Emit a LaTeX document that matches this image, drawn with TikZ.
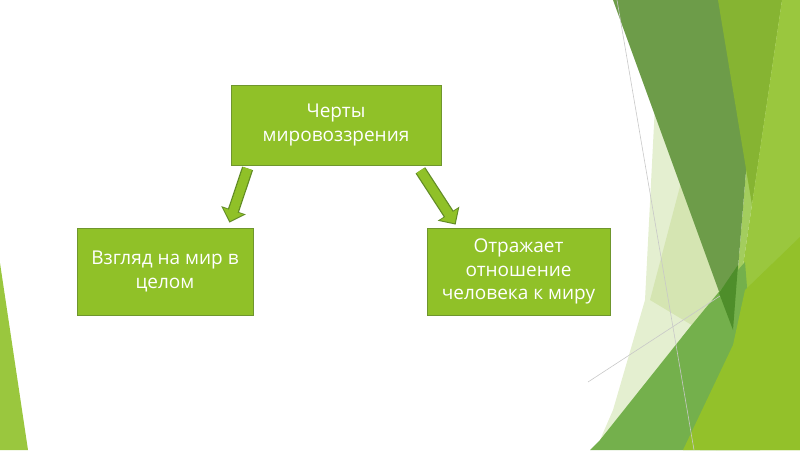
\documentclass[tikz,border=0pt]{standalone}
\usepackage{fontspec}
\setmainfont{Open Sans}
\usetikzlibrary{arrows.meta}

\definecolor{boxgreen}{RGB}{144,193,40}
\definecolor{boxedge}{RGB}{111,150,45}
\definecolor{arrowedge}{RGB}{98,140,38}
\definecolor{facetpale}{RGB}{228,239,208}
\definecolor{facetpaletwo}{RGB}{213,229,178}
\definecolor{facetdark}{RGB}{109,156,73}
\definecolor{facetdeep}{RGB}{78,142,42}
\definecolor{facetmid}{RGB}{134,180,50}
\definecolor{facetlight}{RGB}{154,199,62}
\definecolor{facetpalelime}{RGB}{163,205,94}
\definecolor{facetgreen}{RGB}{116,176,76}
\definecolor{facetlime}{RGB}{147,193,42}
\definecolor{facetline}{RGB}{200,200,200}

\tikzset{
    feature/.style={draw=boxedge, line width=0.8pt, fill=boxgreen, text=white,
        align=center, inner sep=3pt, font=\fontsize{19}{23.5}\selectfont},
    arrowout/.style={draw=arrowedge, line width=11.5pt,
        -{Triangle[length=13pt,width=25pt]}},
    arrowin/.style={draw=boxgreen, line width=9pt, shorten >=1.6pt,
        -{Triangle[length=10.5pt,width=20.5pt]}},
    facetedge/.style={draw=facetline, line width=0.6pt}
}

\begin{document}
\begin{tikzpicture}[x=1pt,y=-1pt]
    \useasboundingbox (0,0) rectangle (800,450);

    % Facet background
    \fill[facetpale] (655,105) -- (740,330) -- (598,450) -- (600,440) -- (613,410) -- (645,300) -- cycle;
    \fill[facetpaletwo] (683,175) -- (738,330) -- (700,330) -- (650,300) -- cycle;
    \fill[facetpalelime] (760,0) -- (782,0) -- (716,450) -- (700,450) -- (733,330) -- cycle;
    \fill[facetdark] (613,0) -- (760,0) -- (733,330) -- cycle;
    \fill[facetmid] (718,0) -- (782,0) -- (752,205) -- cycle;
    \fill[facetlight] (782,0) -- (800,0) -- (800,450) -- (716,450) -- cycle;
    \fill[facetgreen] (590,450) -- (600,440) -- (690,327) -- (718,293) -- (745,262) -- (760,450) -- cycle;
    \fill[facetdeep] (719,293) -- (738,265) -- (733,330) -- cycle;
    \fill[facetlime] (683,450) -- (733,345) -- (745,290) -- (800,237) -- (800,450) -- cycle;
    \draw[facetedge] (617,0) -- (694,450);
    \draw[facetedge] (588,382) -- (720,296);
    \fill[facetlight] (0,263) -- (28,450) -- (0,450) -- cycle;

    % Boxes
    \node[feature, minimum width=210pt, minimum height=80pt] (traits) at (336,125) {Черты\\мировоззрения};
    \node[feature, minimum width=176pt, minimum height=87pt] (view) at (165,271.5) {Взгляд на мир в\\целом};
    \node[feature, minimum width=183pt, minimum height=87pt] (attitude) at (518.5,271.5) {Отражает\\отношение\\человека к миру};

    % Arrows
    \coordinate (l0) at ([xshift=17pt,yshift=-3pt]traits.south west);
    \coordinate (l1) at ([xshift=-24pt,yshift=5pt]view.north east);
    \coordinate (r0) at ([xshift=-21pt,yshift=-5pt]traits.south east);
    \coordinate (r1) at ([xshift=29pt,yshift=3pt]attitude.north west);
    \draw[arrowout] (l0) -- (l1); \draw[arrowin] (l0) -- (l1);
    \draw[arrowout] (r0) -- (r1); \draw[arrowin] (r0) -- (r1);
\end{tikzpicture}
\end{document}
